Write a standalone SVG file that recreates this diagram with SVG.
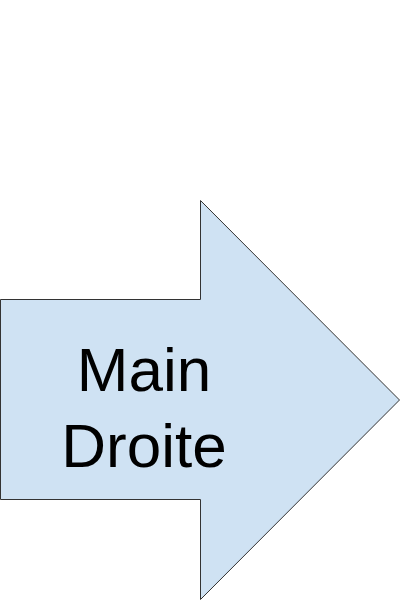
<svg xmlns="http://www.w3.org/2000/svg" width="400" height="600" viewBox="0 0 400 600">
<style>
.shape{fill:#cfe2f3;stroke:#333333;stroke-width:1}
.lbl{font-family:"Liberation Sans",Arial,sans-serif;font-size:62px;fill:#000;text-anchor:middle}
</style>
<rect width="400" height="600" fill="#ffffff"/>
<g id="arrow">
<path class="shape" d="M0.5,299.5 H200.5 V200.5 L399.5,400 L200.5,599.5 V499.5 H0.5 Z"/>
<text class="lbl" x="144" y="391">Main</text>
<text class="lbl" x="144" y="467">Droite</text>
</g>
</svg>
